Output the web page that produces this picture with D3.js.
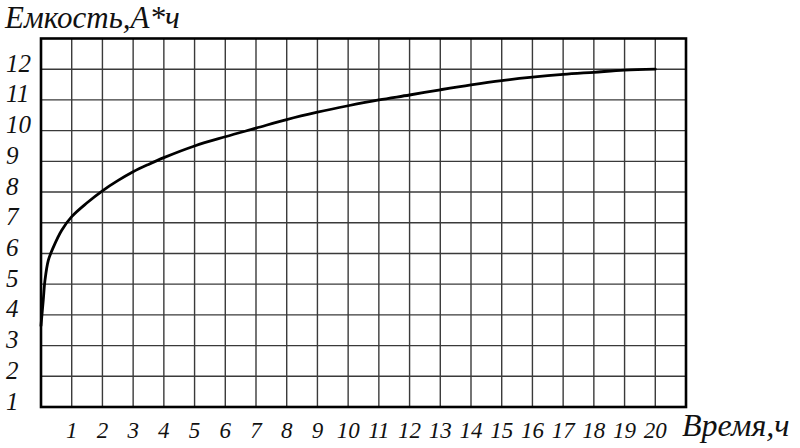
<!DOCTYPE html>
<html>
<head>
<meta charset="utf-8">
<script src="https://cdn.jsdelivr.net/npm/d3@7"></script>
<style>
  html, body { margin: 0; padding: 0; background: #fff; }
  svg { display: block; }
  text { font-family: "Liberation Serif", "DejaVu Serif", serif; font-style: italic; fill: #111; }
</style>
</head>
<body>
<svg id="chart" width="800" height="448"></svg>
<script>
// ---- data ----
const timeHours = [0, 0.075, 0.13, 0.24, 0.4, 0.67, 1, 1.5, 2, 2.5, 3, 3.5, 4, 5, 6, 7, 8, 9, 10, 11, 12, 13, 14, 15, 16, 17, 18, 19, 20];
const capacityAh = [3.65, 4.5, 5.13, 5.78, 6.2, 6.75, 7.2, 7.65, 8.04, 8.37, 8.66, 8.9, 9.12, 9.5, 9.8, 10.08, 10.36, 10.6, 10.81, 11.0, 11.16, 11.33, 11.49, 11.63, 11.74, 11.83, 11.9, 11.97, 12.0];
const xTickLabels = [1, 2, 3, 4, 5, 6, 7, 8, 9, 10, 11, 12, 13, 14, 15, 16, 17, 18, 19, 20];
const yTickLabels = [1, 2, 3, 4, 5, 6, 7, 8, 9, 10, 11, 12];
const yTitle = "Емкость,А*ч";
const xTitle = "Время,ч";

// ---- layout ----
const svg = d3.select("#chart");
const pLeft = 41, pRight = 686, pTop = 38.5, pBottom = 407;
const x = d3.scaleLinear().domain([0, 21]).range([pLeft, pRight]);
const y = d3.scaleLinear().domain([1, 13]).range([pBottom, pTop]);

// grid
const g = svg.append("g");
g.selectAll("line.v").data(d3.range(1, 21)).join("line")
  .attr("class", "v")
  .attr("x1", d => x(d)).attr("x2", d => x(d))
  .attr("y1", pTop).attr("y2", pBottom)
  .attr("stroke", "#3a3a3a").attr("stroke-width", 1.4);
g.selectAll("line.h").data(d3.range(2, 13)).join("line")
  .attr("class", "h")
  .attr("y1", d => y(d)).attr("y2", d => y(d))
  .attr("x1", pLeft).attr("x2", pRight)
  .attr("stroke", "#3a3a3a").attr("stroke-width", 1.4);

// frame
g.append("rect")
  .attr("x", pLeft).attr("y", pTop)
  .attr("width", pRight - pLeft).attr("height", pBottom - pTop)
  .attr("fill", "none").attr("stroke", "#000").attr("stroke-width", 2.6);

// curve
const pts = timeHours.map((t, i) => [t, capacityAh[i]]);
g.append("path")
  .datum(pts)
  .attr("d", d3.line().x(d => x(d[0])).y(d => y(d[1])).curve(d3.curveCatmullRom.alpha(0.5)))
  .attr("fill", "none").attr("stroke", "#000").attr("stroke-width", 2.8)
  .attr("stroke-linejoin", "round").attr("stroke-linecap", "round");

// y tick labels
svg.selectAll("text.yt").data(yTickLabels).join("text")
  .attr("class", "yt")
  .attr("x", 6).attr("y", d => y(d) - 6)
  .attr("dominant-baseline", "central")
  .attr("font-size", 25)
  .text(d => d);

// x tick labels
svg.selectAll("text.xt").data(xTickLabels).join("text")
  .attr("class", "xt")
  .attr("x", d => x(d)).attr("y", 438)
  .attr("text-anchor", "middle")
  .attr("font-size", 23)
  .text(d => d);

// titles
svg.append("text").attr("x", 5).attr("y", 28).attr("font-size", 31).text(yTitle);
svg.append("text").attr("x", 682).attr("y", 436).attr("font-size", 32).text(xTitle);
</script>
</body>
</html>
